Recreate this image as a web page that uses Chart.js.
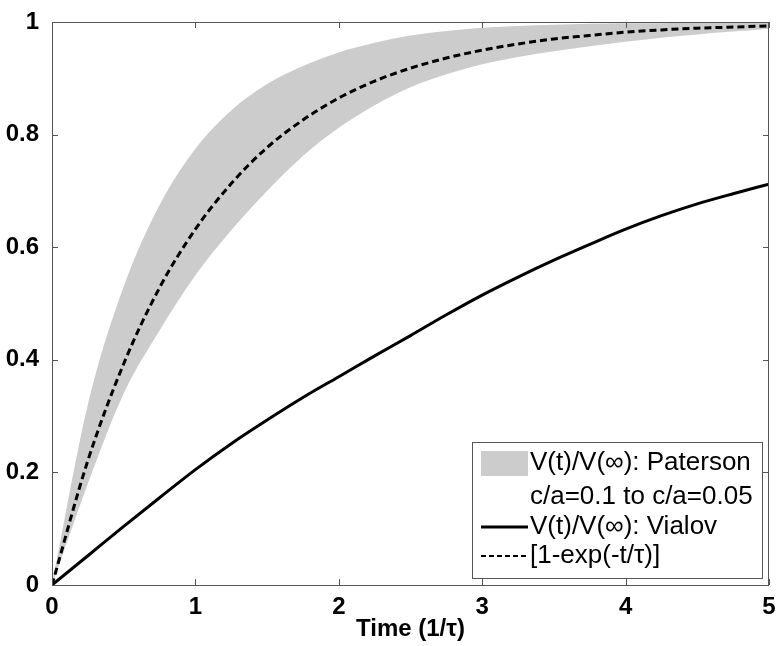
<!DOCTYPE html>
<html>
<head>
<meta charset="utf-8">
<script src="https://cdn.jsdelivr.net/npm/chart.js@4.4.1/dist/chart.umd.min.js"></script>
<style>
  body { margin: 0; background: #fff; }
  canvas { display: block; }
</style>
</head>
<body>
<canvas id="chart" width="778" height="646"></canvas>
<script>
// time axis in units of tau
const timeSteps = [0, 0.25, 0.5, 0.75, 1, 1.25, 1.5, 1.75, 2, 2.25, 2.5, 2.75, 3, 3.25, 3.5, 3.75, 4, 4.25, 4.5, 4.75, 5];
// Paterson band, c/a=0.1 (upper edge) to c/a=0.05 (lower edge)
const patersonUpper = [0, 0.32, 0.53, 0.675, 0.775, 0.843, 0.89, 0.922, 0.946, 0.963, 0.976, 0.984, 0.99, 0.993, 0.995, 0.997, 0.998, 0.998, 0.999, 0.999, 0.999];
const patersonLower = [0, 0.18, 0.34, 0.452, 0.55, 0.63, 0.70, 0.762, 0.812, 0.852, 0.884, 0.907, 0.925, 0.938, 0.948, 0.957, 0.965, 0.972, 0.978, 0.983, 0.988];
const vialov = [0, 0.052, 0.104, 0.155, 0.205, 0.251, 0.293, 0.333, 0.37, 0.407, 0.443, 0.48, 0.515, 0.547, 0.577, 0.605, 0.632, 0.656, 0.677, 0.695, 0.712];
const expFit = [0, 0.221, 0.393, 0.528, 0.632, 0.713, 0.777, 0.826, 0.865, 0.895, 0.918, 0.936, 0.950, 0.961, 0.970, 0.976, 0.982, 0.986, 0.989, 0.991, 0.993];

const xTicks = [0, 1, 2, 3, 4, 5];
const yTicks = [0, 0.2, 0.4, 0.6, 0.8, 1];

const legendItems = [
  { label: 'V(t)/V(\u221e): Paterson', kind: 'box' },
  { label: 'c/a=0.1 to c/a=0.05', kind: 'none' },
  { label: 'V(t)/V(\u221e): Vialov', kind: 'solid' },
  { label: '[1-exp(-t/\u03c4)]', kind: 'dash' }
];

const toPoints = ys => timeSteps.map((t, i) => ({ x: t, y: ys[i] }));

const tickFont = { family: 'Liberation Sans, Arial, sans-serif', size: 24, weight: 'bold' };
const frameColor = '#555';

// box, inward tick marks and legend, like the original figure
const framePlugin = {
  id: 'frame',
  afterDraw(chart) {
    const ctx = chart.ctx;
    const a = chart.chartArea;
    const xs = chart.scales.x, ys = chart.scales.y;
    ctx.save();
    ctx.strokeStyle = frameColor;
    ctx.lineWidth = 1;
    ctx.strokeRect(a.left + 0.5, a.top + 0.5, a.right - a.left - 1, a.bottom - a.top);
    const tl = 6;
    ctx.beginPath();
    xTicks.forEach(v => {
      const px = Math.round(xs.getPixelForValue(v)) + 0.5;
      ctx.moveTo(px, a.bottom); ctx.lineTo(px, a.bottom - tl);
      ctx.moveTo(px, a.top); ctx.lineTo(px, a.top + tl);
    });
    yTicks.forEach(v => {
      const py = Math.round(ys.getPixelForValue(v)) + 0.5;
      ctx.moveTo(a.left, py); ctx.lineTo(a.left + tl, py);
      ctx.moveTo(a.right, py); ctx.lineTo(a.right - tl, py);
    });
    ctx.stroke();

    // legend
    const w = 290, h = 136;
    const bx = a.right - 7 - w, by = a.bottom - 7 - h;
    ctx.fillStyle = '#fff';
    ctx.fillRect(bx, by, w, h);
    ctx.strokeRect(bx + 0.5, by + 0.5, w, h);
    ctx.font = '26px Liberation Sans, Arial, sans-serif';
    ctx.textBaseline = 'middle';
    ctx.textAlign = 'left';
    const rows = [21, 55, 85, 114];
    legendItems.forEach((item, i) => {
      const cy = by + rows[i];
      const sx = bx + 9, ex = bx + 56;
      if (item.kind === 'box') {
        ctx.fillStyle = '#cccccc';
        ctx.fillRect(sx, cy - 12, ex - sx, 25);
      } else if (item.kind === 'solid' || item.kind === 'dash') {
        ctx.strokeStyle = '#000';
        ctx.lineWidth = item.kind === 'solid' ? 3 : 2;
        ctx.setLineDash(item.kind === 'dash' ? [5, 3] : []);
        ctx.beginPath();
        ctx.moveTo(sx, cy); ctx.lineTo(ex, cy);
        ctx.stroke();
        ctx.setLineDash([]);
      }
      ctx.fillStyle = '#000';
      ctx.fillText(item.label, bx + 58, cy);
    });
    ctx.restore();
  }
};

const fmtTick = v => String(Math.round(v * 10) / 10);

new Chart(document.getElementById('chart'), {
  type: 'line',
  data: {
    datasets: [
      {
        label: 'Paterson c/a=0.05',
        data: toPoints(patersonLower),
        borderWidth: 0,
        borderColor: 'rgba(0,0,0,0)',
        fill: false,
        order: 4
      },
      {
        label: 'Paterson c/a=0.1',
        data: toPoints(patersonUpper),
        borderWidth: 0,
        borderColor: 'rgba(0,0,0,0)',
        backgroundColor: '#cccccc',
        fill: '-1',
        order: 3
      },
      {
        label: 'Vialov',
        data: toPoints(vialov),
        borderColor: '#000',
        borderWidth: 3,
        fill: false,
        order: 1
      },
      {
        label: '1-exp(-t/tau)',
        data: toPoints(expFit),
        borderColor: '#000',
        borderWidth: 3,
        borderDash: [7, 4],
        fill: false,
        order: 0
      }
    ]
  },
  options: {
    responsive: false,
    animation: false,
    devicePixelRatio: 1,
    layout: { padding: { top: 22, right: 9, left: 0, bottom: 0 } },
    elements: {
      point: { radius: 0 },
      line: { cubicInterpolationMode: 'monotone' }
    },
    plugins: {
      legend: { display: false },
      tooltip: { enabled: false }
    },
    scales: {
      x: {
        type: 'linear',
        min: 0,
        max: 5,
        afterBuildTicks: s => { s.ticks = xTicks.map(v => ({ value: v })); },
        afterFit: s => { s.height = 61; },
        ticks: { font: tickFont, color: '#000', padding: 0, callback: fmtTick },
        grid: { display: false },
        border: { display: false },
        title: {
          display: true,
          text: 'Time (1/\u03c4)',
          font: tickFont,
          color: '#000',
          padding: { top: 0, bottom: 2 }
        }
      },
      y: {
        type: 'linear',
        min: 0,
        max: 1,
        afterBuildTicks: s => { s.ticks = yTicks.map(v => ({ value: v })); },
        afterFit: s => { s.width = 52; },
        ticks: { font: tickFont, color: '#000', padding: 5, callback: fmtTick },
        grid: { display: false },
        border: { display: false }
      }
    }
  },
  plugins: [framePlugin]
});
</script>
</body>
</html>
